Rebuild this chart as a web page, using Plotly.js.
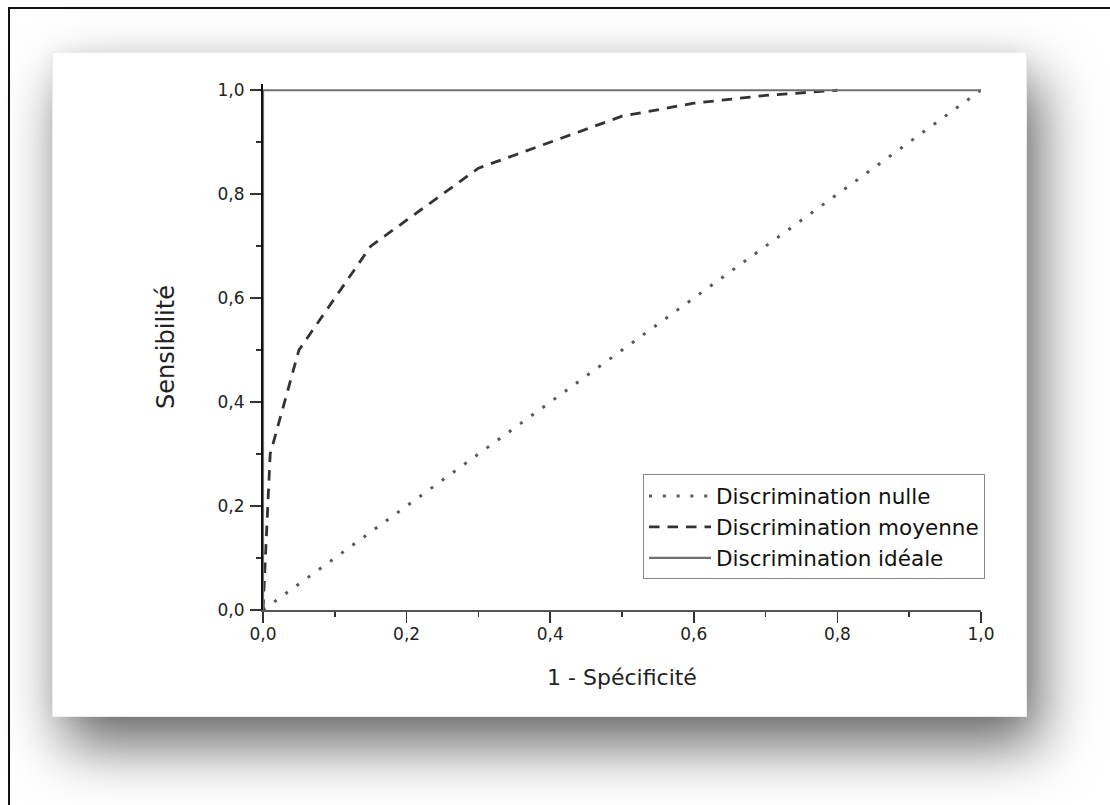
<!DOCTYPE html>
<html>
<head>
<meta charset="utf-8">
<script src="https://cdn.plot.ly/plotly-3.0.1.min.js"></script>
<style>
  html, body { margin: 0; padding: 0; background: #ffffff; width: 1110px; height: 805px; overflow: hidden; }
  #frame { position: absolute; left: 8px; top: 7px; width: 1200px; height: 900px;
           border-top: 2px solid #111; border-left: 2px solid #111; }
  #card { position: absolute; left: 52px; top: 52px; width: 975px; height: 665px; background: #fff;
          border: 1px solid #ececec; box-sizing: border-box;
          box-shadow: 12px 28px 55px rgba(0,0,0,0.6), 0 0 18px rgba(0,0,0,0.05); }
  #chart { position: absolute; left: 0; top: 0; width: 1110px; height: 805px; }
</style>
</head>
<body>
<div id="frame"></div>
<div id="card"></div>
<div id="chart"></div>
<script>
// Data
var legendNames = ["Discrimination nulle", "Discrimination moyenne", "Discrimination idéale"];
var nulleX = [0, 1];
var nulleY = [0, 1];
var moyenneX = [0, 0.003, 0.01, 0.05, 0.1, 0.15, 0.2, 0.3, 0.35, 0.4, 0.5, 0.6, 0.7, 0.8];
var moyenneY = [0, 0.1, 0.3, 0.5, 0.6, 0.7, 0.75, 0.85, 0.875, 0.9, 0.95, 0.975, 0.99, 1.0];
var idealeX = [0, 0, 1];
var idealeY = [0, 1, 1];
var tickVals = [0, 0.2, 0.4, 0.6, 0.8, 1.0];
var xTitle = "1 - Spécificité";
var yTitle = "Sensibilité";

var FONT = "DejaVu Sans, sans-serif";

var traces = [
  { x: nulleX, y: nulleY, mode: "lines", name: legendNames[0],
    line: { color: "#5a5a5a", width: 3, dash: "3px,10.8px" } },
  { x: moyenneX, y: moyenneY, mode: "lines", name: legendNames[1],
    line: { color: "#333333", width: 2.8, dash: "10.5px,8px" } },
  { x: idealeX, y: idealeY, mode: "lines", name: legendNames[2],
    line: { color: "#707070", width: 2.2 } }
];

var axisCommon = {
  tickvals: tickVals,
  tickformat: ".1f",
  ticks: "outside",
  ticklen: 11,
  tickwidth: 1.6,
  tickcolor: "#333",
  showgrid: false,
  zeroline: false,
  showline: true,
  linewidth: 2,
  tickfont: { family: FONT, size: 17, color: "#222" },
  minor: { dtick: 0.1, tick0: 0, ticks: "outside", ticklen: 5, tickwidth: 1.6, tickcolor: "#333", showgrid: false }
};

var layout = {
  width: 1110, height: 805,
  paper_bgcolor: "rgba(0,0,0,0)",
  plot_bgcolor: "rgba(0,0,0,0)",
  separators: ", ",
  margin: { l: 263, r: 129, t: 84, b: 195, pad: 0 },
  showlegend: true,
  legend: {
    x: 1.0056, y: 0.2577, xanchor: "right", yanchor: "top",
    bgcolor: "#ffffff", bordercolor: "#888888", borderwidth: 1,
    itemwidth: 62,
    font: { family: FONT, size: 21.5, color: "#111" },
    traceorder: "normal"
  },
  xaxis: Object.assign({}, axisCommon, {
    range: [0, 1],
    linecolor: "#555",
    ticklabelstandoff: -3,
    title: { text: xTitle, font: { family: FONT, size: 22, color: "#222" }, standoff: 26 }
  }),
  yaxis: Object.assign({}, axisCommon, {
    range: [0, 1.012],
    linecolor: "#111",
    ticklabelstandoff: 2,
    title: { text: yTitle, font: { family: FONT, size: 24, color: "#222" }, standoff: 36 }
  })
};

Plotly.newPlot("chart", traces, layout, { displayModeBar: false, staticPlot: true });
</script>
</body>
</html>
